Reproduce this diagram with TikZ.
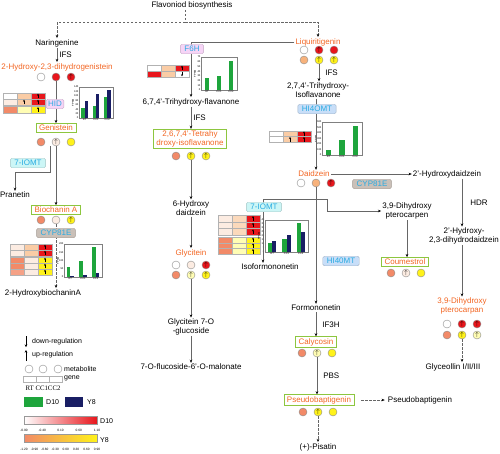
\documentclass[tikz,border=0pt]{standalone}
\usepackage{fontspec}
\setmainfont{Liberation Sans}
\newfontfamily\serifrm{Liberation Serif}
\usetikzlibrary{positioning, arrows.meta}

\definecolor{hitorange}{RGB}{242,101,34}
\definecolor{enzblue}{RGB}{41,171,226}
\definecolor{boxgreen}{RGB}{141,198,63}
\definecolor{upred}{RGB}{232,22,28}
\definecolor{peach}{RGB}{247,178,124}
\definecolor{cellpeach}{RGB}{250,204,165}
\definecolor{salmon}{RGB}{242,138,104}
\definecolor{pale}{RGB}{252,236,226}
\definecolor{upyellow}{RGB}{255,242,26}
\definecolor{paleyellow}{RGB}{255,253,180}
\definecolor{barg}{RGB}{30,165,60}
\definecolor{barn}{RGB}{25,30,100}
\definecolor{barmid}{RGB}{247,165,95}
\definecolor{hidpink}{RGB}{246,212,246}
\definecolor{iomtcyan}{RGB}{204,246,246}
\definecolor{cypgray}{RGB}{202,192,184}
\definecolor{hiblue}{RGB}{200,222,248}

\tikzset{
    cmp/.style={font=\fontsize{8}{9}\selectfont, inner sep=1pt, align=center},
    hit/.style={cmp, text=hitorange},
    hitbox/.style={hit, draw=boxgreen, line width=0.7pt, inner xsep=3pt, inner ysep=1.5pt},
    enz/.style={cmp, text=enzblue, fill=#1, draw=#1!80!black, line width=0.4pt,
        rounded corners=1.5pt, inner xsep=4pt, minimum height=9.5pt},
    met/.style={circle, draw=black!45, fill=#1, line width=0.4pt, minimum size=8pt, inner sep=0pt},
    lab/.style={cmp, inner sep=2pt},
    flow/.style={draw=black!60, line width=0.6pt, -{Stealth[length=3.2pt, width=2.6pt, black]}},
    guess/.style={flow, dash pattern=on 2.5pt off 1.5pt},
    cell/.style={draw=black!30, line width=0.3pt},
    cellmark/.style={line width=0.35pt, -{Stealth[length=2pt, width=2pt]}},
    legmark/.style={line width=0.5pt, -{Stealth[length=2.6pt, width=2.6pt]}},
    ticklab/.style={font=\fontsize{2.6}{3}\selectfont, inner sep=0.4pt},
    scalelab/.style={font=\fontsize{3.2}{3.5}\selectfont, inner sep=0pt},
    axisline/.style={draw=black!50, line width=0.4pt},
    legtext/.style={font=\fontsize{7}{8}\selectfont, inner sep=1pt, anchor=west}
}

\newcommand{\upmark}{{\fontsize{6}{6}\selectfont$\uparrow$}}
\newcommand{\nomark}{}
\newcommand{\cellno}[2]{}
\newcommand{\cellup}[2]{\draw[cellmark] ({#1},{#2+2.3}) -- ({#1},{#2-2.3});}
\newcommand{\celldown}[2]{\draw[cellmark] ({#1},{#2-2.3}) -- ({#1},{#2+2.3});}

% three metabolite circles: name, x of middle, y, colour/mark list
\newcommand{\metrow}[4]{%
    \foreach \mc/\mm [count=\mi] in {#4}
        \node[met=\mc] (#1-\mi) at ({#2+(\mi-2)*15},#3) {\mm};}

% heat map block: left, top, row height, rows
\newcommand{\heat}[4]{%
    \foreach \hA/\hB/\hC/\aB/\aC [count=\rw from 0] in {#4} {
        \pgfmathsetmacro{\ty}{#2+\rw*#3}
        \filldraw[cell, fill=\hA] (#1,\ty) rectangle ++(14,#3);
        \filldraw[cell, fill=\hB] ({#1+14},\ty) rectangle ++(14,#3);
        \filldraw[cell, fill=\hC] ({#1+28},\ty) rectangle ++(14,#3);
        \aB{#1+21}{\ty+#3/2}
        \aC{#1+35}{\ty+#3/2}
    }}

% FPKM chart frame: left, top, width, height, tick labels, last tick index
\newcommand{\fpkm}[6]{%
    \draw[axisline] (#1,#2) rectangle ({#1+#3},{#2+#4});
    \foreach \tv [count=\j from 0] in {#5}
        \node[ticklab, anchor=east] at (#1,{#2+#4-\j*#4/#6}) {\tv};
    \node[ticklab, rotate=90] at ({#1-6},{#2+#4/2}) {FPKM};
    \foreach \cat [count=\j from 0] in {RT,CC1,CC2}
        \node[ticklab, anchor=north] at ({#1+(\j+0.5)*#3/3},{#2+#4+0.5}) {\cat};}

% bars: left, bottom, width, green/navy heights
\newcommand{\bars}[4]{%
    \foreach \gh/\nh [count=\j from 0] in {#4} {
        \fill[barg] ({#1+(\j+0.2)*#3/3},#2) rectangle ++({0.3*#3/3},{-\gh});
        \fill[barn] ({#1+(\j+0.5)*#3/3},#2) rectangle ++({0.3*#3/3},{-\nh});
    }}
\newcommand{\gbars}[4]{%
    \foreach \gh [count=\j from 0] in {#4}
        \fill[barg] ({#1+(\j+0.3)*#3/3},#2) rectangle ++({0.4*#3/3},{-\gh});}

\begin{document}
\begin{tikzpicture}[x=1pt, y=-1pt]
\useasboundingbox (0,0) rectangle (500,453);

\node[cmp] (flav) at (192,5) {Flavoniod biosynthesis};
\coordinate (split) at (185,22);
\node[cmp] (nar) at (57,43) {Naringenine};
\node[hit] (hyd) at (57,67) {2-Hydroxy-2,3-dihydrogenistein};
\node[hitbox] (gen) at (56,128) {Genistein};
\node[cmp] (pra) at (15,195) {Pranetin};
\node[hitbox] (bio) at (56,210) {Biochanin A};
\node[cmp] (hbio) at (43,293) {2-HydroxybiochaninA};

\node[hit] (liq) at (318,42) {Liquiritigenin};
\node[cmp] (tri) at (191,102) {6,7,4'-Trihydroxy-flavanone};
\node[hitbox] (tet) at (190,139) {2,6,7,4'-Tetrahy\\droxy-isoflavanone};
\node[cmp] (hyd6) at (191,208) {6-Hydroxy\\daidzein};
\node[hit] (gly) at (191,253) {Glycitein};
\node[cmp] (glc) at (191,327) {Glycitein 7-O\\-glucoside};
\node[cmp] (mal) at (191,367) {7-O-flucoside-6'-O-malonate};

\node[cmp] (isf) at (318,90) {2,7,4'-Trihydroxy-\\Isoflavanone};
\node[hit] (daid) at (314,174) {Daidzein};
\node[cmp] (hdz) at (447,174) {2'-Hydroxydaidzein};
\node[cmp] (isof) at (270,267) {Isoformononetin};
\node[cmp] (dhp) at (407,211) {3,9-Dihydroxy\\pterocarpen};
\node[hitbox] (cou) at (405,262) {Coumestrol};
\node[cmp] (hdd) at (464,236) {2'-Hydroxy-\\2,3-dihydrodaidzein};
\node[hit] (dpc) at (462,306) {3,9-Dihydroxy\\pterocarpan};
\node[cmp] (gly3) at (453,367) {Glyceollin I/II/III};
\node[cmp] (form) at (316,308) {Formononetin};
\node[hitbox] (caly) at (316,342) {Calycosin};
\node[hitbox] (pse) at (319,400) {Pseudobaptigenin};
\node[cmp] (pse2) at (420,400) {Pseudobaptigenin};
\node[cmp] (pis) at (318,447) {(+)-Pisatin};

\metrow{hyd}{56}{77}{white/\nomark, upred/\nomark, upred/\upmark}
\metrow{gen}{56}{142}{salmon/\nomark, pale/\upmark, upyellow/\nomark}
\metrow{bio}{56}{220}{salmon/\nomark, pale/\nomark, upyellow/\upmark}
\metrow{liqa}{319}{50}{white/\nomark, upred/\upmark, upred/\nomark}
\metrow{liqb}{319}{60}{peach/\nomark, upyellow/\upmark, upyellow/\upmark}
\metrow{tet}{191}{156}{salmon/\nomark, upyellow/\upmark, upyellow/\upmark}
\metrow{glya}{191}{265}{white/\nomark, pale/\nomark, upred/\upmark}
\metrow{glyb}{191}{275}{salmon/\nomark, paleyellow/\upmark, upyellow/\upmark}
\metrow{daid}{316}{183}{white/\nomark, peach/\nomark, upred/\upmark}
\metrow{cou}{406}{273}{salmon/\nomark, pale/\upmark, upyellow/\nomark}
\metrow{dpca}{462}{324}{white/\nomark, upred/\upmark, upred/\upmark}
\metrow{dpcb}{462}{335}{salmon/\nomark, upyellow/\upmark, paleyellow/\upmark}
\metrow{caly}{317}{353}{salmon/\nomark, paleyellow/\upmark, upyellow/\nomark}
\metrow{pse}{318}{412}{salmon/\nomark, upyellow/\upmark, upyellow/\nomark}

\heat{3}{93}{6}{white/cellpeach/upred/\cellno/\cellup, pale/cellpeach/upred/\cellup/\cellup}
\heat{3}{106}{7}{salmon/paleyellow/upyellow/\cellno/\cellup}
\heat{147}{65}{6}{white/cellpeach/upred/\cellno/\cellup, upred/cellpeach/white/\cellno/\celldown}
\heat{269}{131}{5.5}{white/cellpeach/upred/\cellno/\cellup, white/cellpeach/upred/\cellup/\cellup}
\heat{218}{215}{6.7}{pale/cellpeach!75/upred/\cellno/\cellup, pale/cellpeach!75/upred/\cellno/\cellup, pale/cellpeach!75/upred/\cellno/\cellup}
\heat{218}{237}{5.7}{salmon/paleyellow/upyellow/\cellno/\cellup, salmon/paleyellow/upyellow/\cellno/\cellup, salmon/paleyellow/upyellow/\cellno/\cellup}
\heat{10}{244}{6}{pale/cellpeach/upred/\cellno/\cellup, pale/cellpeach/upred/\cellno/\cellup}
\heat{10}{257}{6}{salmon/pale/upyellow/\cellno/\cellup, salmon/pale/upyellow/\cellno/\cellup, salmon!80/pale/upyellow/\cellno/\cellup}

\fpkm{79}{87}{34}{31}{0,20,40,60,80,100,120,140}{7}
\bars{79}{118}{34}{10/17, 12/24, 21/28}
\fpkm{201}{57}{36}{33}{0,10,20,30,40,50,60,70}{7}
\gbars{201}{90}{36}{12,14,29}
\fpkm{322}{122}{40}{33}{0,100,200,300,400,500,600}{6}
\gbars{322}{155}{40}{5,15,29}
\fpkm{265}{220}{43}{32}{0,5,10,15,20,25,30,35,40}{8}
\bars{265}{252}{43}{9/11, 13/17, 29/20}
\fpkm{64}{244}{38}{33}{0,50,100,150,200}{4}
\bars{64}{277}{38}{10/1, 16/2, 30/4}

\draw[guess, -] (flav.south -| split) -- (split);
\draw[guess] (split) -| (nar);
\draw[guess] (split) -| (liq);

\draw[flow] (nar) -- node[lab, right] {IFS} (hyd);
\draw[flow] (hyd-2) -- (gen);
\coordinate (prabend) at (50,172);
\draw[flow] (gen-2.south -| prabend) -- (prabend) -| (pra);
\draw[flow] (gen-2) -- (bio);
\draw[guess] (bio-2) -- (bio-2 |- hbio.north);

\draw[flow] (liq.west) -| (tri);
\draw[flow] (tri) -- node[lab, right] {IFS} (tri |- tet.north);
\draw[flow] (tet-2) -- (hyd6);
\draw[flow] (hyd6) -- (gly);
\draw[flow] (glyb-2) -- (glc);
\draw[flow] (glc) -- (mal);

\draw[flow] (liqb-2) -- node[lab, right=4pt] {IFS} (liqb-2 |- isf.north);
\draw[flow] (isf.south -| daid-2) -- (daid.north -| daid-2);
\draw[flow] (daid) -- (hdz);
\draw[flow] (daid-2) -- (daid-2 |- form.north);
\coordinate (br) at (316,199);
\coordinate (brl) at (263,199);
\draw[flow] (br) -- (brl) -- (brl |- isof.north);
\draw[flow] (br) -- ++(11,0) |- (dhp.west);
\draw[flow] (dhp.south) -- (dhp.south |- cou.north);
\coordinate (hcol) at (462,0);
\draw[flow] (hdz.south -| hcol) -- node[lab, right=6pt] {HDR} (hdd.north -| hcol);
\draw[flow] (hdd.south -| hcol) -- (dpc.north -| hcol);
\draw[guess] (dpcb-2) -- (dpcb-2 |- gly3.north);
\draw[flow] (form) -- node[lab, right=4pt] {IF3H} (caly);
\draw[flow] (caly-2) -- node[lab, right=4pt] {PBS} (caly-2 |- pse.north);
\draw[guess, shorten <=7pt, shorten >=2pt] (pse) -- (pse2);
\draw[guess] (pse-2) -- (pse-2 |- pis.north);

\node[enz=hidpink, inner xsep=2pt] (hid) at (55,104) {HID};
\node[enz=iomtcyan] (iomt1) at (28,163) {7-IOMT};
\node[enz=cypgray] (cyp1) at (56,233) {CYP81E};
\node[enz=hidpink] (f6h) at (192,49) {F6H};
\node[enz=hiblue] (hi4) at (317,109) {HI4OMT};
\node[enz=cypgray] (cyp2) at (372,184) {CYP81E};
\node[enz=iomtcyan] (iomt2) at (264,207) {7-IOMT};
\node[enz=hiblue] (hi40) at (341,261) {HI40MT};

% legend
\draw[legmark] (26,336) -- (26,347);
\node[legtext] (ldown) at (31,342) {down-regulation};
\draw[legmark] (26,361) -- (26,350);
\node[legtext] (lup) at (31,355) {up-regulation};
\foreach \x [count=\i] in {29,43,58}
    \node[met=white] (lm\i) at (\x,369) {};
\node[legtext] (lmet) at (63,369) {metabolite};
\foreach \x in {23,36,49}
    \draw[cell] (\x,376.5) rectangle ++(13,5.5);
\node[legtext] (lgene) at (63,378) {gene};
\node[font=\serifrm\fontsize{6.8}{7}\selectfont, inner sep=0pt] (lcond) at (43,388) {RT CC1CC2};
\fill[barg] (24,397) rectangle (43,407);
\node[legtext] (ld10) at (45,402) {D10};
\fill[barn] (65,397) rectangle (83,407);
\node[legtext] (ly8) at (86,402) {Y8};
\shade[left color=white, middle color=barmid, right color=upred] (24,416) rectangle (97,424);
\draw[black!40, line width=0.3pt] (24,416) rectangle (97,424);
\node[legtext] (lsd10) at (99,421) {D10};
\foreach \v [count=\i from 0] in {-0.90,-0.40,0.10,0.60,1.10}
    \node[scalelab] at ({24+\i*18.25},430) {\v};
\shade[left color=salmon, middle color=white, right color=upyellow] (24,434) rectangle (97,442);
\draw[black!40, line width=0.3pt] (24,434) rectangle (97,442);
\node[legtext] (lsy8) at (99,440) {Y8};
\foreach \v [count=\i from 0] in {-1.20,-0.90,-0.60,-0.30,0.00,0.30,0.60,0.90}
    \node[scalelab] at ({24+\i*10.43},449) {\v};
\end{tikzpicture}
\end{document}
